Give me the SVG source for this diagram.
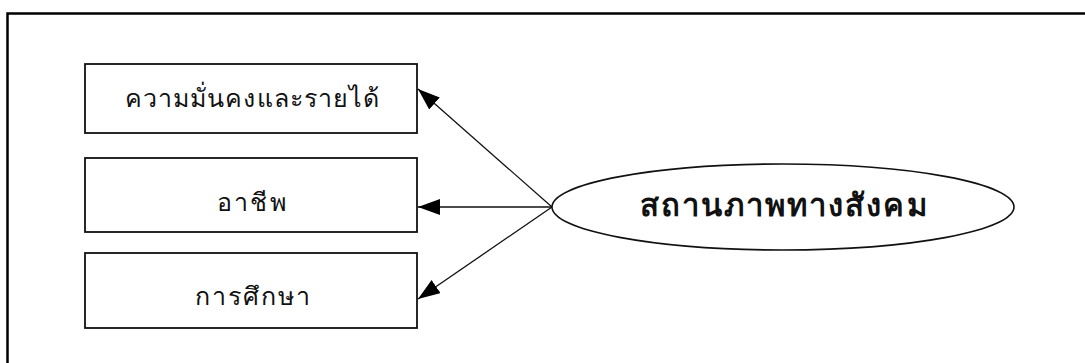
<svg xmlns="http://www.w3.org/2000/svg" width="1085" height="363" viewBox="0 0 1085 363">
<style>
.frame{fill:none;stroke:#000;stroke-width:2.5}
.box{fill:#fff;stroke:#111;stroke-width:1.8}
.ell{fill:#fff;stroke:#111;stroke-width:1.6}
.lbl{font-family:"Noto Sans","DejaVu Sans","Liberation Sans",sans-serif;font-size:25px;fill:#111;text-anchor:middle}
.big{font-family:"Noto Sans","DejaVu Sans","Liberation Sans",sans-serif;font-size:31px;font-weight:bold;fill:#111;text-anchor:middle}
.conn{stroke:#111;stroke-width:1.3;fill:none}
</style>
<defs>
<marker id="ah" markerUnits="userSpaceOnUse" markerWidth="24" markerHeight="18" refX="22" refY="8" orient="auto">
<path d="M0,0 L22,8 L0,16 Z" fill="#000"/>
</marker>
</defs>
<rect width="1085" height="363" fill="#fff"/>
<rect class="frame" x="7.5" y="13.5" width="1090" height="360"/>
<g id="connectors">
<line class="conn" x1="552" y1="207" x2="418" y2="89" marker-end="url(#ah)"/>
<line class="conn" x1="552" y1="207" x2="418" y2="207" stroke-width="2" marker-end="url(#ah)"/>
<line class="conn" x1="552" y1="207" x2="418" y2="299" marker-end="url(#ah)"/>
</g>
<g id="n1">
<rect class="box" x="85" y="64" width="332" height="69"/>
<text class="lbl" x="252" y="107" textLength="254" lengthAdjust="spacing">ความมั่นคงและรายได้</text>
</g>
<g id="n2">
<rect class="box" x="85" y="158" width="332" height="74"/>
<text class="lbl" x="251" y="211" textLength="69" lengthAdjust="spacing">อาชีพ</text>
</g>
<g id="n3">
<rect class="box" x="85" y="253" width="332" height="75"/>
<text class="lbl" x="252" y="305" textLength="115" lengthAdjust="spacing">การศึกษา</text>
</g>
<g id="n4">
<ellipse class="ell" cx="783" cy="207" rx="231" ry="43"/>
<text class="big" x="783" y="216" textLength="287" lengthAdjust="spacing">สถานภาพทางสังคม</text>
</g>
</svg>
